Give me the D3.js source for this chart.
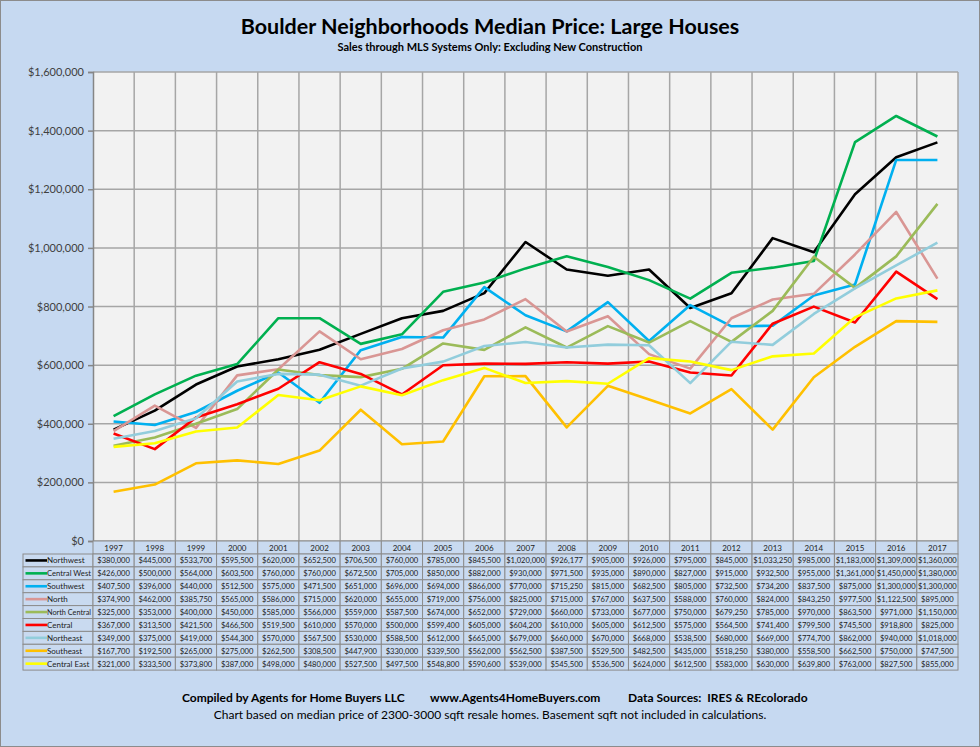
<!DOCTYPE html>
<html>
<head>
<meta charset="utf-8">
<script src="https://cdn.jsdelivr.net/npm/d3@7"></script>
<style>
  html, body { margin: 0; padding: 0; background: #fff; }
  svg { display: block; font-family: Lato, "Open Sans", sans-serif; }
</style>
</head>
<body>
<svg id="chart" width="980" height="747"></svg>
<script>
const years = ["1997","1998","1999","2000","2001","2002","2003","2004","2005","2006","2007",
  "2008","2009","2010","2011","2012","2013","2014","2015","2016","2017"];

const northwest = [380000,445000,533700,595500,620000,652500,706500,760000,785000,845500,1020000,
  926177,905000,926000,795000,845000,1033250,985000,1183000,1309000,1360000];
const centralWest = [426000,500000,564000,603500,760000,760000,672500,705000,850000,882000,930000,
  971500,935000,890000,827000,915000,932500,955000,1361000,1450000,1380000];
const southwest = [407500,396000,440000,512500,575000,471500,651000,696000,694000,866000,770000,
  715250,815000,682500,805000,732500,734200,837500,875000,1300000,1300000];
const north = [374900,462000,385750,565000,586000,715000,620000,655000,719000,756000,825000,
  715000,767000,637500,588000,760000,824000,843250,977500,1122500,895000];
const northCentral = [325000,353000,400000,450000,585000,566000,559000,587500,674000,652000,729000,
  660000,733000,677000,750000,679250,785000,970000,863500,971000,1150000];
const central = [367000,313500,421500,466500,519500,610000,570000,500000,599400,605000,604200,
  610000,605000,612500,575000,564500,741400,799500,745500,918800,825000];
const northeast = [349000,375000,419000,544300,570000,567500,530000,588500,612000,665000,679000,
  660000,670000,668000,538500,680000,669000,774700,862000,940000,1018000];
const southeast = [167700,192500,265000,275000,262500,308500,447900,330000,339500,562000,562500,
  387500,529500,482500,435000,518250,380000,558500,662500,750000,747500];
const centralEast = [321000,333500,373800,387000,498000,480000,527500,497500,548800,590600,539000,
  545500,536500,624000,612500,583000,630000,639800,763000,827500,855000];

const seriesNames = ["Northwest","Central West","Southwest","North","North Central",
  "Central","Northeast","Southeast","Central East"];
const seriesValues = [northwest, centralWest, southwest, north, northCentral,
  central, northeast, southeast, centralEast];
const seriesColors = ["#000000","#00b050","#00b0f0","#d99694","#9bbb59",
  "#ff0000","#92cddc","#ffc000","#ffff00"];

const yTicks = [0,200000,400000,600000,800000,1000000,1200000,1400000,1600000];

const series = seriesNames.map((name, i) => ({
  name, color: seriesColors[i],
  values: seriesValues[i].map((v, j) => ({ year: years[j], value: v }))
}));

const svg = d3.select("#chart");
const W = 980, H = 747;

// Layout
const plot = { left: 93, right: 958, top: 72, bottom: 541 };
const legendLeft = 23;
const headerH = 13;
const rowH = 12.9;

// Background + frame
svg.append("rect").attr("x", 0.5).attr("y", 0.5).attr("width", W - 1).attr("height", H - 1)
  .attr("fill", "#c6d9f1").attr("stroke", "#8c8c8c");

// Titles
svg.append("text").attr("x", 490).attr("y", 34).attr("text-anchor", "middle")
  .style("font-size", "21.5px").style("font-weight", "bold").attr("fill", "#000")
  .text("Boulder Neighborhoods Median Price: Large Houses");
svg.append("text").attr("x", 490).attr("y", 51).attr("text-anchor", "middle")
  .style("font-size", "11px").style("font-weight", "bold").attr("fill", "#000")
  .text("Sales through MLS Systems Only: Excluding  New Construction");

// Scales
const x = d3.scaleBand().domain(years).range([plot.left, plot.right]).padding(0);
const y = d3.scaleLinear().domain([0, 1600000]).range([plot.bottom, plot.top]);

// Plot area
svg.append("rect").attr("x", plot.left).attr("y", plot.top)
  .attr("width", plot.right - plot.left).attr("height", plot.bottom - plot.top)
  .attr("fill", "#f2f2f2");

// Gridlines
const grid = svg.append("g").attr("stroke", "#a6a6a6").attr("stroke-width", 1.5);
grid.selectAll("line.h").data(yTicks).enter().append("line")
  .attr("x1", plot.left).attr("x2", plot.right)
  .attr("y1", d => y(d)).attr("y2", d => y(d));
grid.selectAll("line.v").data(years.slice(1)).enter().append("line")
  .attr("x1", d => x(d)).attr("x2", d => x(d))
  .attr("y1", plot.top).attr("y2", plot.bottom);
grid.append("line").attr("x1", plot.right).attr("x2", plot.right)
  .attr("y1", plot.top).attr("y2", plot.bottom);

// Y axis
const yAxis = d3.axisLeft(y).tickValues(yTicks).tickSize(5).tickPadding(4)
  .tickFormat(d => "$" + d3.format(",")(d));
const yg = svg.append("g").attr("transform", `translate(${plot.left},0)`).call(yAxis);
yg.select(".domain").attr("stroke", "#868686").attr("stroke-width", 1.5);
yg.selectAll(".tick line").attr("stroke", "#868686").attr("stroke-width", 1.5);
yg.selectAll(".tick text").attr("fill", "#404040").style("font-size", "11px")
  .style("font-family", "Lato, 'Open Sans', sans-serif");

// Lines
const line = d3.line().x(d => x(d.year) + x.bandwidth() / 2).y(d => y(d.value));
svg.append("g").selectAll("path").data(series).enter().append("path")
  .attr("fill", "none").attr("stroke", d => d.color).attr("stroke-width", 2.6)
  .attr("stroke-linejoin", "round").attr("d", d => line(d.values));

// Data table
const table = svg.append("g").style("font-size", "8px");
const cellFill = "#c9daf0";
const cellStroke = "#8c8c8c";

// Header row (years)
const header = table.selectAll("g.hdr").data(years).enter().append("g");
header.append("rect").attr("x", d => x(d)).attr("y", plot.bottom)
  .attr("width", x.bandwidth()).attr("height", headerH)
  .attr("fill", cellFill).attr("stroke", cellStroke);
header.append("text").attr("x", d => x(d) + x.bandwidth() / 2).attr("y", plot.bottom + 10)
  .attr("text-anchor", "middle").attr("fill", "#222").text(d => d);

const tableTop = plot.bottom + headerH;
const fmt = d => "$" + d3.format(",")(d);

const rows = table.selectAll("g.row").data(series).enter().append("g")
  .attr("transform", (d, i) => `translate(0,${tableTop + i * rowH})`);

// legend cell
rows.append("rect").attr("x", legendLeft).attr("y", 0)
  .attr("width", plot.left - legendLeft).attr("height", rowH)
  .attr("fill", cellFill).attr("stroke", cellStroke);
rows.append("line").attr("x1", legendLeft + 2.5).attr("x2", legendLeft + 24)
  .attr("y1", rowH / 2).attr("y2", rowH / 2)
  .attr("stroke", d => d.color).attr("stroke-width", 2.6);
const legendText = rows.append("text").attr("x", legendLeft + 24).attr("y", rowH / 2 + 3)
  .attr("fill", "#222").text(d => d.name);
// squeeze names that would spill past the cell
const maxW = plot.left - legendLeft - 26;
legendText.each(function () {
  if (this.getComputedTextLength() > maxW) {
    d3.select(this).attr("textLength", maxW).attr("lengthAdjust", "spacingAndGlyphs");
  }
});

// value cells
rows.each(function (s) {
  const g = d3.select(this);
  const cells = g.selectAll("g.cell").data(s.values).enter().append("g");
  cells.append("rect").attr("x", d => x(d.year)).attr("y", 0)
    .attr("width", x.bandwidth()).attr("height", rowH)
    .attr("fill", cellFill).attr("stroke", cellStroke);
  cells.append("text").attr("x", d => x(d.year) + x.bandwidth() / 2).attr("y", rowH / 2 + 3)
    .attr("text-anchor", "middle").attr("fill", "#222").style("font-size", "7.6px")
    .text(d => fmt(d.value));
});

// Footer
const foot = svg.append("g").style("font-size", "12px").attr("fill", "#000");
foot.append("text").attr("x", 182).attr("y", 702).style("font-weight", "bold")
  .text("Compiled by Agents for Home Buyers LLC");
foot.append("text").attr("x", 430).attr("y", 702).style("font-weight", "bold")
  .text("www.Agents4HomeBuyers.com");
foot.append("text").attr("x", 628).attr("y", 702).style("font-weight", "bold")
  .attr("xml:space", "preserve").text("Data Sources:  IRES & REcolorado");
foot.append("text").attr("x", 490).attr("y", 719).attr("text-anchor", "middle")
  .text("Chart based on median price of 2300-3000 sqft resale homes.  Basement sqft not included in calculations.");
</script>
</body>
</html>
